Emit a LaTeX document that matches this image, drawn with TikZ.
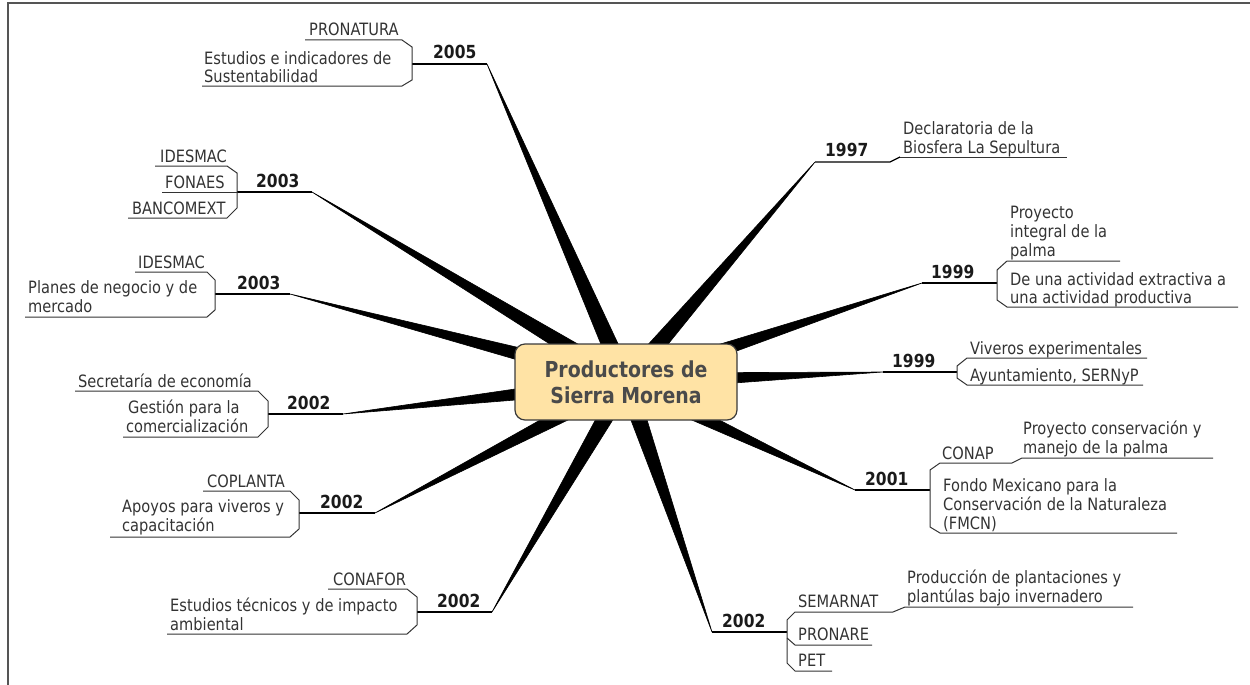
\documentclass[tikz,border=0pt]{standalone}
\usepackage{fontspec}
\setmainfont{DejaVu Sans}[FakeStretch=0.86]
\usetikzlibrary{calc,backgrounds}
\definecolor{txtc}{HTML}{333333}
\definecolor{yrc}{HTML}{1A1A1A}
\definecolor{linec}{HTML}{333333}
\definecolor{boxfill}{HTML}{FFE3A5}
\definecolor{boxdraw}{HTML}{3A3A3A}
\definecolor{titlec}{HTML}{4A4A4A}
\definecolor{framec}{HTML}{555555}
\newcommand\lblfnt{\fontsize{17}{19}\selectfont}
\newcommand\yrfnt{\fontsize{18}{20}\selectfont\bfseries}
\newcommand\ttlfnt{\fontsize{22}{26}\selectfont\bfseries}
\tikzset{
  txt/.style={anchor=base west, inner sep=0pt, font=\lblfnt, text=txtc},
  yr/.style={anchor=base west, inner sep=0pt, font=\yrfnt, text=yrc},
  uline/.style={draw=linec, line width=1pt},
  conn/.style={draw=black, line width=1.2pt},
  wedge/.style={fill=black, draw=black, line width=0.6pt, line join=round},
  rootbox/.style={draw=boxdraw, line width=1.2pt, fill=boxfill, rounded corners=10pt,
    minimum width=222pt, minimum height=76pt, align=center, font=\ttlfnt, text=titlec, inner sep=0pt}
}
\begin{document}
\begin{tikzpicture}[x=1pt,y=-1pt]
\useasboundingbox (0,0) rectangle (1250,685);
\draw[framec, line width=1.5pt] (8,685) -- (8,3) -- (1250,3);

\node[rootbox] (root) at (626,382) {Productores de\\Sierra Morena};

% end points of branches
\coordinate (e05) at (487,64);
\coordinate (e03a) at (312,192);
\coordinate (e03b) at (290,294);
\coordinate (e02a) at (343,414);
\coordinate (e02b) at (375,513);
\coordinate (e02c) at (492,612);
\coordinate (e97) at (815,162);
\coordinate (e99a) at (922,283);
\coordinate (e99b) at (883,372);
\coordinate (e01) at (855,490);
\coordinate (e02d) at (712,632);

\begin{scope}[on background layer]
\foreach \e in {e05,e03a,e03b,e02a,e02b,e02c,e97,e99a,e99b,e01,e02d}{
  \fill[wedge] (\e) -- ($(root.center)!9pt!90:(\e)$) -- ($(root.center)!9pt!-90:(\e)$) -- cycle;
}
\end{scope}

% 2005
\coordinate (b05) at (412,64);
\draw[conn] (e05) -- (b05);
\draw[uline] (305,40) -- (402,40) -- (412,47) -- (412,80) -- (402,86) -- (202,86);
\node[txt] (n05a) at (309,36) {PRONATURA};
\node[txt] (n05b) at (204,64) {Estudios e indicadores de};
\node[txt] (n05c) at (204,82) {Sustentabilidad};
\node[yr] (y05) at (433,59) {2005};

% 2003 a
\coordinate (b03a) at (237,192);
\draw[conn] (e03a) -- (b03a);
\draw[uline] (b03a) -- (162,192);
\draw[uline] (155,166) -- (227,166) -- (237,173) -- (237,208) -- (227,218) -- (128,218);
\node[txt] (n03a1) at (160,162) {IDESMAC};
\node[txt] (n03a2) at (165,188) {FONAES};
\node[txt] (n03a3) at (132,214) {BANCOMEXT};
\node[yr] (y03a) at (256,187) {2003};

% 2003 b
\coordinate (b03b) at (215,294);
\draw[conn] (e03b) -- (b03b);
\draw[uline] (135,272) -- (207,272) -- (215,280) -- (215,310) -- (207,317) -- (25,317);
\node[txt] (n03b1) at (138,268) {IDESMAC};
\node[txt] (n03b2) at (28,293) {Planes de negocio y de};
\node[txt] (n03b3) at (28,312) {mercado};
\node[yr] (y03b) at (237,289) {2003};

% 2002 a
\coordinate (b02a) at (268,414);
\draw[conn] (e02a) -- (b02a);
\draw[uline] (75,391) -- (258,391) -- (268,401) -- (268,427) -- (258,437) -- (123,437);
\node[txt] (n02a1) at (78,387) {Secretaría de economía};
\node[txt] (n02a2) at (128,413) {Gestión para la};
\node[txt] (n02a3) at (126,432) {comercialización};
\node[yr] (y02a) at (287,409) {2002};

% 2002 b
\coordinate (b02b) at (299,513);
\draw[conn] (e02b) -- (b02b);
\draw[uline] (203,491) -- (290,491) -- (299,500) -- (299,529) -- (290,537) -- (110,537);
\node[txt] (n02b1) at (207,487) {COPLANTA};
\node[txt] (n02b2) at (122,512) {Apoyos para viveros y};
\node[txt] (n02b3) at (122,531) {capacitación};
\node[yr] (y02b) at (320,508) {2002};

% 2002 c
\coordinate (b02c) at (417,612);
\draw[conn] (e02c) -- (b02c);
\draw[uline] (328,589) -- (407,589) -- (417,597) -- (417,625) -- (407,634) -- (167,634);
\node[txt] (n02c1) at (333,585) {CONAFOR};
\node[txt] (n02c2) at (170,611) {Estudios técnicos y de impacto};
\node[txt] (n02c3) at (170,630) {ambiental};
\node[yr] (y02c) at (437,607) {2002};

% 1997
\coordinate (b97) at (900,157);
\draw[conn] (e97) -- (890,162) -- (b97);
\draw[uline] (b97) -- (1067,157);
\node[txt] (n97a) at (903,134) {Declaratoria de la};
\node[txt] (n97b) at (903,153) {Biosfera La Sepultura};
\node[yr] (y97) at (825,156) {1997};

% 1999 a
\coordinate (b99a) at (997,283);
\draw[conn] (e99a) -- (b99a);
\draw[uline] (1120,261) -- (1007,261) -- (997,270) -- (997,300) -- (1007,307) -- (1238,307);
\node[txt] (n99a1) at (1010,218) {Proyecto};
\node[txt] (n99a2) at (1010,237) {integral de la};
\node[txt] (n99a3) at (1010,256) {palma};
\node[txt] (n99a4) at (1010,285) {De una actividad extractiva a};
\node[txt] (n99a5) at (1010,303) {una actividad productiva};
\node[yr] (y99a) at (931,278) {1999};

% 1999 b
\coordinate (b99b) at (957,372);
\draw[conn] (e99b) -- (b99b);
\draw[uline] (1147,358) -- (967,358) -- (957,366) -- (957,378) -- (967,385) -- (1143,385);
\node[txt] (n99b1) at (970,354) {Viveros experimentales};
\node[txt] (n99b2) at (970,381) {Ayuntamiento, SERNyP};
\node[yr] (y99b) at (892,367) {1999};

% 2001
\coordinate (b01) at (930,490);
\draw[conn] (e01) -- (b01);
\draw[uline] (1213,458) -- (1022,458) -- (1012,463) -- (940,463) -- (930,470) -- (930,527) -- (940,533) -- (1177,533);
\node[txt] (n01a) at (942,459) {CONAP};
\node[txt] (n01b) at (1023,434) {Proyecto conservación y};
\node[txt] (n01c) at (1023,453) {manejo de la palma};
\node[txt] (n01d) at (943,491) {Fondo Mexicano para la};
\node[txt] (n01e) at (943,510) {Conservación de la Naturaleza};
\node[txt] (n01f) at (943,529) {(FMCN)};
\node[yr] (y01) at (865,485) {2001};

% 2002 d
\coordinate (b02d) at (787,632);
\draw[conn] (e02d) -- (b02d);
\draw[uline] (1133,607) -- (905,607) -- (893,612) -- (795,612) -- (787,620) -- (787,663) -- (795,671) -- (832,671);
\draw[uline] (787,638) -- (795,645) -- (872,645);
\node[txt] (n02d1) at (798,607) {SEMARNAT};
\node[txt] (n02d2) at (798,640) {PRONARE};
\node[txt] (n02d3) at (798,666) {PET};
\node[txt] (n02d4) at (907,583) {Producción de plantaciones y};
\node[txt] (n02d5) at (907,602) {plantúlas bajo invernadero};
\node[yr] (y02d) at (722,627) {2002};
\end{tikzpicture}
\end{document}
